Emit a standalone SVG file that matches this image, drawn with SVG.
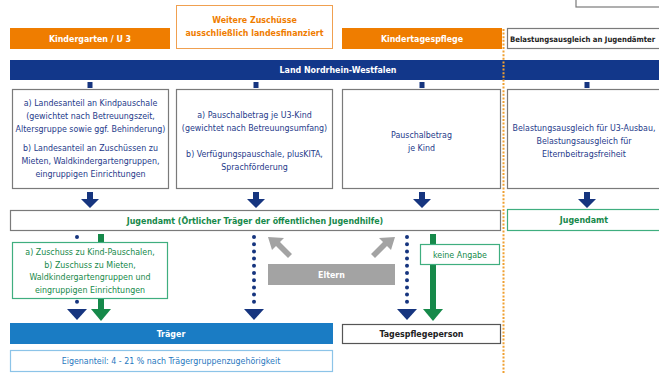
<svg xmlns="http://www.w3.org/2000/svg" width="659" height="374" viewBox="0 0 659 374">
<style>
text{font-family:"Liberation Sans Narrow","DejaVu Sans Condensed","Liberation Sans",sans-serif;font-size:8.8px;text-anchor:middle}
.b{font-weight:bold}
.w{fill:#ffffff}
.o{fill:#ef7d00}
.db{fill:#1e3a8a}
.g{fill:#16894a}
.k{fill:#222222}
.lb{fill:#1f78c0}
.box{fill:#ffffff;stroke:#7a7a7a;stroke-width:1.2}
.gbox{fill:#ffffff;stroke:#3fae7f;stroke-width:1.2}
.dotb{stroke:#16357f;stroke-width:4;stroke-linecap:round;stroke-dasharray:0 7.2;fill:none}
.arr{fill:#16357f}
.garr{fill:#16894a}
.gray{fill:#a3a3a3}
</style>
<rect x="0" y="0" width="659" height="374" fill="#ffffff"/>
<g id="corner"><rect x="576" y="-4" width="90" height="11" class="box"/></g>
<g id="kindergarten"><rect x="10" y="28" width="160" height="21" fill="#ef7d00"/><text x="90" y="41.5" class="b w">Kindergarten / U 3</text></g>
<g id="weitere"><rect x="176.5" y="5.5" width="156" height="43" fill="#ffffff" stroke="#f0a050" stroke-width="1"/><text x="254.5" y="23" class="b o">Weitere Zuschüsse</text><text x="254.5" y="36" class="b o">ausschließlich landesfinanziert</text></g>
<g id="kindertagespflege"><rect x="342" y="28" width="160" height="21" fill="#ef7d00"/><text x="422" y="41.5" class="b w">Kindertagespflege</text></g>
<g id="belastung-head"><rect x="507.5" y="28.5" width="160" height="20" class="box"/><text x="510" y="41.5" class="b k" style="text-anchor:start;font-size:7.7px">Belastungsausgleich an Jugendämter</text></g>
<g id="land"><rect x="10" y="60" width="649" height="20" fill="#12378a"/><text x="338" y="73" class="b w">Land Nordrhein-Westfalen</text></g>
<g id="box1"><rect x="12.5" y="89.5" width="156" height="99" class="box"/>
<text x="90.5" y="106" class="db">a) Landesanteil an Kindpauschale</text>
<text x="90.5" y="119" class="db">(gewichtet nach Betreuungszeit,</text>
<text x="90.5" y="132" class="db">Altersgruppe sowie ggf. Behinderung)</text>
<text x="90.5" y="151" class="db">b) Landesanteil an Zuschüssen zu</text>
<text x="90.5" y="164" class="db">Mieten, Waldkindergartengruppen,</text>
<text x="90.5" y="177" class="db">eingruppigen Einrichtungen</text></g>
<g id="box2"><rect x="176.5" y="89.5" width="156" height="99" class="box"/>
<text x="254.5" y="118" class="db">a) Pauschalbetrag je U3-Kind</text>
<text x="254.5" y="131" class="db">(gewichtet nach Betreuungsumfang)</text>
<text x="254.5" y="157" class="db">b) Verfügungspauschale, plusKITA,</text>
<text x="254.5" y="170" class="db">Sprachförderung</text></g>
<g id="box3"><rect x="342.5" y="89.5" width="158" height="99" class="box"/>
<text x="421.5" y="138" class="db">Pauschalbetrag</text>
<text x="421.5" y="151" class="db">je Kind</text></g>
<g id="box4"><rect x="507.5" y="89.5" width="160" height="99" class="box"/>
<text x="584" y="131" class="db">Belastungsausgleich für U3-Ausbau,</text>
<text x="584" y="144" class="db">Belastungsausgleich für</text>
<text x="584" y="157" class="db">Elternbeitragsfreiheit</text></g>
<g id="jugendamt"><rect x="10.5" y="210.5" width="490" height="20" class="box"/><text x="255" y="223.5" class="b g">Jugendamt (Örtlicher Träger der öffentlichen Jugendhilfe)</text></g>
<g id="jugendamt2"><rect x="507.5" y="209.5" width="160" height="21" class="gbox"/><text x="584" y="223" class="b g">Jugendamt</text></g>
<g id="connectors">
<rect x="87.5" y="82" width="5" height="6" class="arr"/>
<rect x="253.5" y="82" width="5" height="6" class="arr"/>
<rect x="419.5" y="82" width="5" height="6" class="arr"/>
<rect x="584.5" y="82" width="5" height="6" class="arr"/>
<path class="arr" d="M87,192h6v7h6l-9,9l-9,-9h6z"/>
<path class="arr" d="M253,192h6v7h6l-9,9l-9,-9h6z"/>
<path class="arr" d="M419,192h6v7h6l-9,9l-9,-9h6z"/>
<path class="arr" d="M584,192h6v7h6l-9,9l-9,-9h6z"/>
<line x1="77" y1="237" x2="77" y2="305" class="dotb"/>
<path class="arr" d="M67,309h20l-10,11z"/>
<rect x="98" y="234" width="6" height="78" fill="#16894a"/>
<path class="garr" d="M91,309h20l-10,12z"/>
<line x1="254" y1="237" x2="254" y2="305" class="dotb"/>
<path class="arr" d="M244,309h20l-10,11z"/>
<line x1="407" y1="237" x2="407" y2="305" class="dotb"/>
<path class="arr" d="M397,309h20l-10,11z"/>
<rect x="430" y="234" width="6" height="78" fill="#16894a"/>
<path class="garr" d="M423,309h20l-10,12z"/>
<path class="gray" d="M268,237l16,1l-4,4l12,12l-4,4l-12,-12l-4,4z"/>
<path class="gray" d="M395,237l-16,1l4,4l-12,12l4,4l12,-12l4,4z"/>
<line x1="503.5" y1="29" x2="503.5" y2="374" stroke="#f0a030" stroke-width="2" stroke-dasharray="2 1.6"/>
</g>
<g id="zuschuss"><rect x="12.5" y="242.5" width="155" height="56" class="gbox"/>
<text x="90" y="255" class="g">a) Zuschuss zu Kind-Pauschalen,</text>
<text x="90" y="267.5" class="g">b) Zuschuss zu Mieten,</text>
<text x="90" y="280" class="g">Waldkindergartengruppen und</text>
<text x="90" y="292.5" class="g">eingruppigen Einrichtungen</text></g>
<g id="eltern"><rect x="268" y="264" width="127" height="21" fill="#a3a3a3"/><text x="331.5" y="277.5" class="b w">Eltern</text></g>
<g id="keine"><rect x="420.5" y="244.5" width="79" height="20" class="gbox"/><text x="460" y="257.5" class="g">keine Angabe</text></g>
<g id="traeger"><rect x="10" y="323" width="323" height="21" fill="#1a7cc4"/><text x="171" y="336.5" class="b w">Träger</text></g>
<g id="tagespflegeperson"><rect x="342.5" y="324.5" width="158" height="19" fill="#ffffff" stroke="#555555" stroke-width="1.2"/><text x="421.5" y="337" class="b k">Tagespflegeperson</text></g>
<g id="eigenanteil"><rect x="10.5" y="350.5" width="322" height="21" fill="#ffffff" stroke="#8cc4e8" stroke-width="1.2"/><text x="171" y="364" class="lb">Eigenanteil: 4 - 21 % nach Trägergruppenzugehörigkeit</text></g>
</svg>
